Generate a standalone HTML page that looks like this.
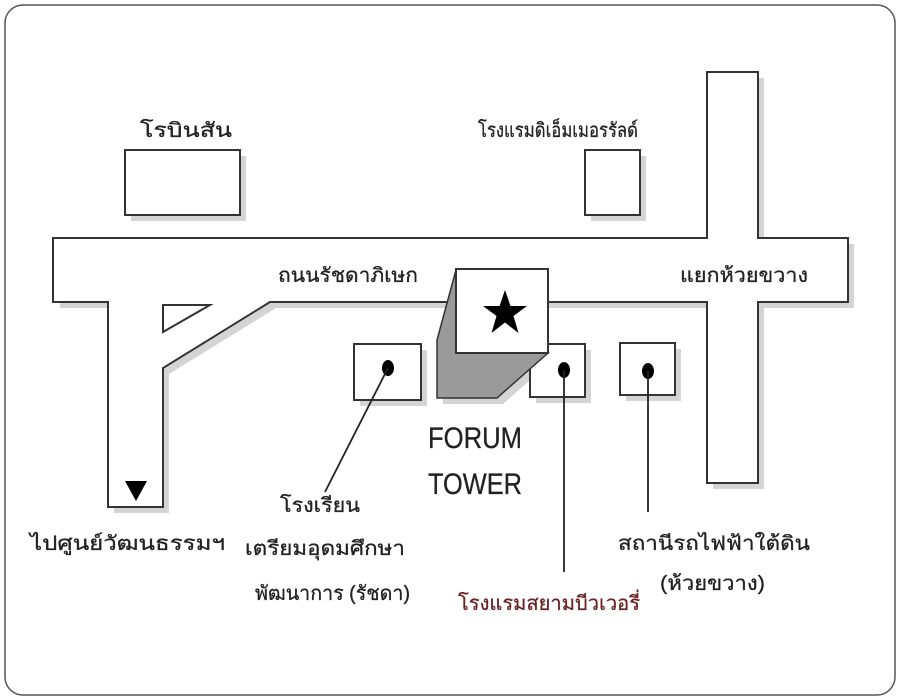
<!DOCTYPE html>
<html><head><meta charset="utf-8"><style>
html,body{margin:0;padding:0;background:#fff;}
svg{display:block}
text{font-family:"Liberation Sans","Noto Sans CJK SC",sans-serif;fill:#222;stroke:#222;stroke-width:0.3;}
</style></head><body>
<svg width="900" height="700" viewBox="0 0 900 700" xmlns="http://www.w3.org/2000/svg">
<rect x="0" y="0" width="900" height="700" fill="#fff"/>
<rect x="5" y="5" width="890" height="690" rx="18" fill="#fff" stroke="#555" stroke-width="1.5"/>
<g fill="#d4d4d4">
<polygon points="60,244 713,244 713,78 764,78 764,244 854,244 854,308 764,308 764,489 713,489 713,308 276,308 169,374 169,513 114,513 114,308 60,308"/>
<rect x="131" y="156" width="115" height="65"/>
<rect x="591" y="156" width="55" height="65"/>
<rect x="360" y="350" width="67" height="56"/>
<rect x="536" y="350" width="55" height="53"/>
<rect x="626" y="349" width="55" height="52"/>
<polygon points="443,346 443,404 503,404 554,359"/>
</g>
<polygon points="53,238 707,238 707,72 758,72 758,238 848,238 848,302 758,302 758,483 707,483 707,302 270,302 163,368 163,507 108,507 108,302 53,302" fill="#fff" stroke="#333" stroke-width="2"/>
<polygon points="163,305 210,305 163,332" fill="#fff" stroke="#333" stroke-width="2"/>
<g fill="#fff" stroke="#333" stroke-width="2">
<rect x="125" y="150" width="115" height="65"/>
<rect x="585" y="150" width="55" height="65"/>
<rect x="354" y="344" width="67" height="56"/>
<rect x="530" y="344" width="55" height="53"/>
<rect x="620" y="343" width="55" height="52"/>
</g>
<polygon points="456,270 437,340 437,398 497,398 548,353 456,353" fill="#9a9a9a" stroke="#333" stroke-width="1.5"/>
<rect x="456" y="269" width="92" height="84" fill="#fff" stroke="#333" stroke-width="2"/>
<polygon points="505,290 510.5,306 527,306 513.5,316 518.5,333 505,322.5 491.5,333 496.5,316 483,306 499.5,306" fill="#000"/>
<g fill="#000"><ellipse cx="388" cy="368" rx="6" ry="8"/><ellipse cx="564" cy="370" rx="6" ry="8"/><ellipse cx="648" cy="371" rx="6" ry="8"/></g>
<g stroke="#222" stroke-width="1.8">
<line x1="388" y1="368" x2="325" y2="492"/>
<line x1="564" y1="370" x2="564" y2="572"/>
<line x1="648" y1="371" x2="648" y2="512"/>
</g>
<polygon points="125,481 147,481 136,501" fill="#000"/>
<g font-size="20" lengthAdjust="spacingAndGlyphs">
<text x="140" y="137" textLength="92" lengthAdjust="spacingAndGlyphs">โรบินสัน</text>
<text x="478" y="137" textLength="160" lengthAdjust="spacingAndGlyphs">โรงแรมดิเอ็มเมอรรัลด์</text>
<text x="278" y="282" textLength="140" lengthAdjust="spacingAndGlyphs">ถนนรัชดาภิเษก</text>
<text x="680" y="282" textLength="128" lengthAdjust="spacingAndGlyphs">แยกห้วยขวาง</text>
<text x="30" y="550" textLength="195" lengthAdjust="spacingAndGlyphs">ไปศูนย์วัฒนธรรมฯ</text>
<text x="280" y="512" textLength="80" lengthAdjust="spacingAndGlyphs">โรงเรียน</text>
<text x="245" y="555" textLength="160" lengthAdjust="spacingAndGlyphs">เตรียมอุดมศึกษา</text>
<text x="255" y="600" textLength="155" lengthAdjust="spacingAndGlyphs">พัฒนาการ (รัชดา)</text>
<text x="458" y="610" textLength="182" lengthAdjust="spacingAndGlyphs" style="fill:#6b2323;stroke:#6b2323">โรงแรมสยามบีวเวอรี่</text>
<text x="618" y="550" textLength="192" lengthAdjust="spacingAndGlyphs">สถานีรถไฟฟ้าใต้ดิน</text>
<text x="660" y="590" textLength="105" lengthAdjust="spacingAndGlyphs">(ห้วยขวาง)</text>
</g>
<text x="475" y="448" font-size="30" text-anchor="middle" textLength="94" lengthAdjust="spacingAndGlyphs">FORUM</text>
<text x="475" y="494" font-size="30" text-anchor="middle" textLength="94" lengthAdjust="spacingAndGlyphs">TOWER</text>
</svg>
</body></html>
